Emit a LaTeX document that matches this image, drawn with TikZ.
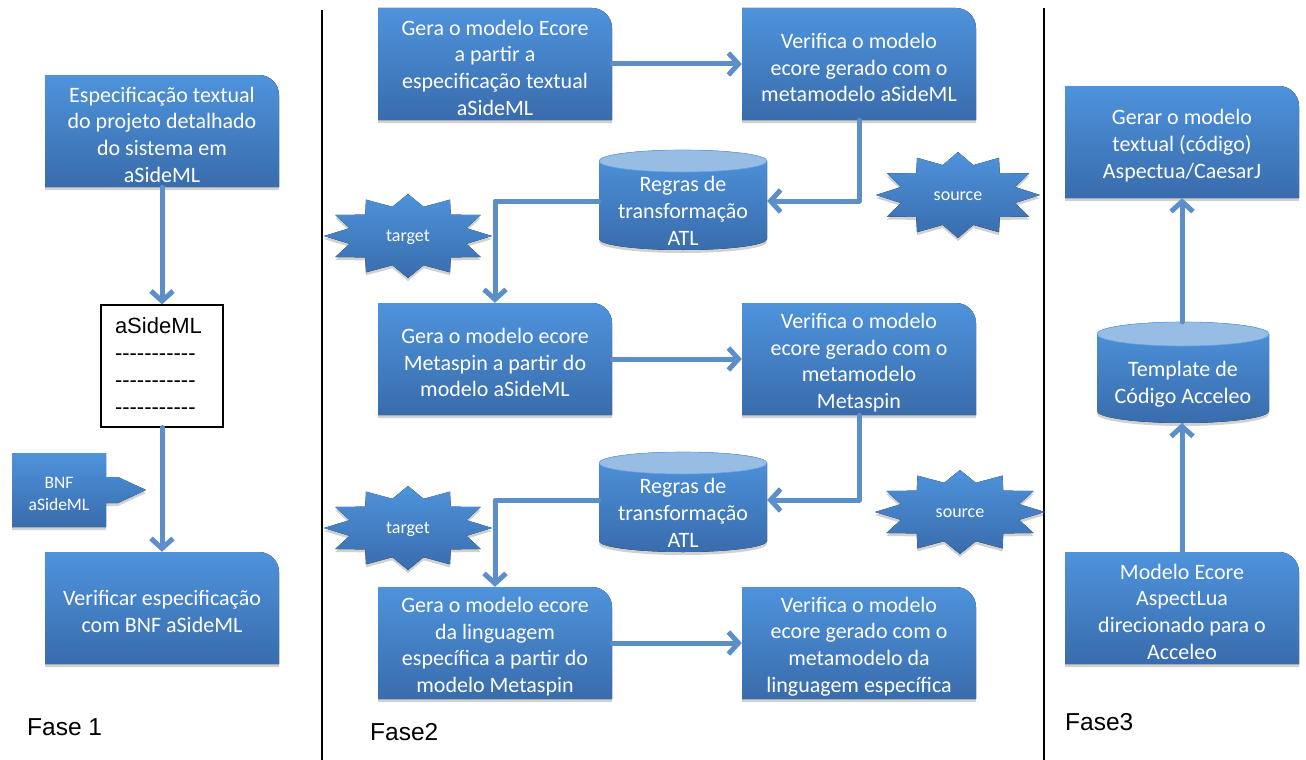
\documentclass[tikz,border=0pt]{standalone}
\usepackage{fontspec}
\setmainfont{Carlito}
\newfontfamily\arialfont{Liberation Sans}[Ligatures=TeXOff]
\usetikzlibrary{arrows.meta,shadows}

\definecolor{boxtop}{RGB}{78,147,220}
\definecolor{boxbot}{RGB}{57,108,172}
\definecolor{flowline}{RGB}{92,142,202}
\definecolor{cyltop}{RGB}{152,189,229}

\tikzset{
  boxfill/.style={top color=boxtop, bottom color=boxbot,
    drop shadow={shadow xshift=0pt, shadow yshift=-3pt, opacity=0.3, fill=black!60}},
  boxtext/.style={text=white, align=center, inner sep=0pt,
    font=\fontsize{22}{26.7}\selectfont},
  boxframe/.style={minimum width=234pt, minimum height=112pt, inner sep=0pt},
  flow/.style={draw=flowline, line width=5pt, line cap=round, line join=round,
    -{Straight Barb[length=10pt,width=22pt]}},
  phase/.style={anchor=west, inner sep=0pt, font=\arialfont\fontsize{24.5}{28}\selectfont},
  divider/.style={line width=2.8pt, black},
}

% process box with one rounded corner (top right): name, centre x, centre y, text
\newcommand\flowbox[4]{%
  \fill[boxfill] ({#2-117},{#3+56}) -- ({#2-117},{#3-56}) -- ({#2+97},{#3-56})
    .. controls ({#2+108},{#3-56}) and ({#2+117},{#3-47}) .. ({#2+117},{#3-36})
    -- ({#2+117},{#3+56}) -- cycle;
  \node[boxframe] (#1) at (#2,#3) {};
  \node[boxtext] (#1-text) at (#2,{#3+3.5}) {#4};
}

% data store: name, centre x, top y, bottom y, x radius, y radius, text
\newcommand\datastore[7]{%
  \fill[boxfill] ({#2-#5},{#3+#6}) -- ({#2-#5},{#4-#6})
    arc[start angle=180, end angle=360, x radius=#5pt, y radius=#6pt]
    -- ({#2+#5},{#3+#6})
    arc[start angle=0, end angle=180, x radius=#5pt, y radius=#6pt] -- cycle;
  \fill[cyltop, draw=boxtop!85!white, line width=0.6pt] (#2,{#3+#6}) ellipse[x radius=#5pt, y radius=#6pt];
  \coordinate (#1-top) at (#2,#3);
  \coordinate (#1-bot) at (#2,#4);
  \node[boxtext, minimum width={2*#5*1pt}, minimum height={(#4-#3-2*#6)*1pt}]
    (#1) at (#2,{(#3+#4)/2+#6}) {#7};
}

% twelve-point star: name, centre x, centre y, x radius, y radius, text
\newcommand\burst[6]{%
  \fill[boxfill] ({#2+#4},#3)
    \foreach \k [evaluate=\k as \r using {mod(\k,2)==0 ? 1 : 0.72}] in {1,...,23}
      { -- ({#2+\r*#4*cos(15*\k)},{#3-\r*#5*sin(15*\k)}) } -- cycle;
  \node[text=white, inner sep=0pt, font=\fontsize{18}{20}\selectfont] (#1) at (#2,{#3+1}) {#6};
}

\begin{document}
\begin{tikzpicture}[x=1pt,y=-1pt]
\useasboundingbox (0,0) rectangle (1306,760);

% phase dividers
\draw[divider] (322,10) -- (322,760);
\draw[divider] (1044,8) -- (1044,760);

% ---------- Fase 1 ----------
\flowbox{spec}{162}{131}{Especificação textual\\do projeto detalhado\\do sistema em\\aSideML}
\node[draw=black, line width=1.2pt, fill=white, minimum width=122pt, minimum height=122pt,
      text width=94pt, align=left, inner sep=0pt,
      font=\arialfont\fontsize{22}{26.8}\selectfont] (doc) at (162,366)
  {aSideML\\-----------\\-----------\\-----------};
\flowbox{check}{162}{608}{Verificar especificação\\com BNF aSideML}

\fill[boxfill] (12,453) -- (106,453) -- (106,477) -- (118,477) -- (146,490)
  -- (118,503) -- (106,503) -- (106,527) -- (12,527) -- cycle;
\node[text=white, align=center, inner sep=0pt, font=\fontsize{17.5}{21.5}\selectfont]
  (bnf) at (59,494) {BNF\\aSideML};

\draw[flow] (spec.south) -- (doc.north);
\draw[flow] (doc.south) -- (check.north);

% ---------- Fase 2 ----------
\flowbox{genA}{495}{64}{Gera o modelo Ecore\\a partir a\\especificação textual\\aSideML}
\flowbox{verA}{859}{64}{Verifica o modelo\\ecore gerado com o\\metamodelo aSideML}
\datastore{atlA}{683}{150}{250}{84}{11}{Regras de\\transformação\\ATL}
\burst{tgtA}{408}{236}{84}{42}{target}
\burst{srcA}{958}{195}{82}{43}{source}

\flowbox{genB}{495}{359}{Gera o modelo ecore\\Metaspin a partir do\\modelo aSideML}
\flowbox{verB}{859}{359}{Verifica o modelo\\ecore gerado com o\\metamodelo\\Metaspin}
\datastore{atlB}{683}{452}{552}{84}{11}{Regras de\\transformação\\ATL}
\burst{tgtB}{408}{528}{84}{42}{target}
\burst{srcB}{960}{512}{85}{42}{source}

\flowbox{genC}{495}{643}{Gera o modelo ecore\\da linguagem\\específica a partir do\\modelo Metaspin}
\flowbox{verC}{859}{643}{Verifica o modelo\\ecore gerado com o\\metamodelo da\\linguagem específica}

\draw[flow] (genA.east) -- (verA.west);
\draw[flow] (verA.south) |- ([yshift=10pt]atlA.east);
\draw[flow] ([yshift=10pt]atlA.west) -| (genB.north);
\draw[flow] (genB.east) -- (verB.west);
\draw[flow] (verB.south) |- ([yshift=13pt]atlB.east);
\draw[flow] ([yshift=13pt]atlB.west) -| (genC.north);
\draw[flow] (genC.east) -- (verC.west);

% ---------- Fase 3 ----------
\flowbox{gen3}{1182}{142}{Gerar o modelo\\textual (código)\\Aspectua/CaesarJ}
\datastore{tpl}{1183}{322}{423}{86}{12}{Template de\\Código Acceleo}
\flowbox{eco}{1182}{608}{Modelo Ecore\\AspectLua\\direcionado para o\\Acceleo}

\draw[flow] (eco.north) -- (eco.north |- tpl-bot);
\draw[flow] (gen3.south |- tpl-top) -- (gen3.south);

% phase labels
\node[phase] (f1) at (27,727) {Fase 1};
\node[phase] (f2) at (370,732) {Fase2};
\node[phase] (f3) at (1065,722) {Fase3};
\end{tikzpicture}
\end{document}
